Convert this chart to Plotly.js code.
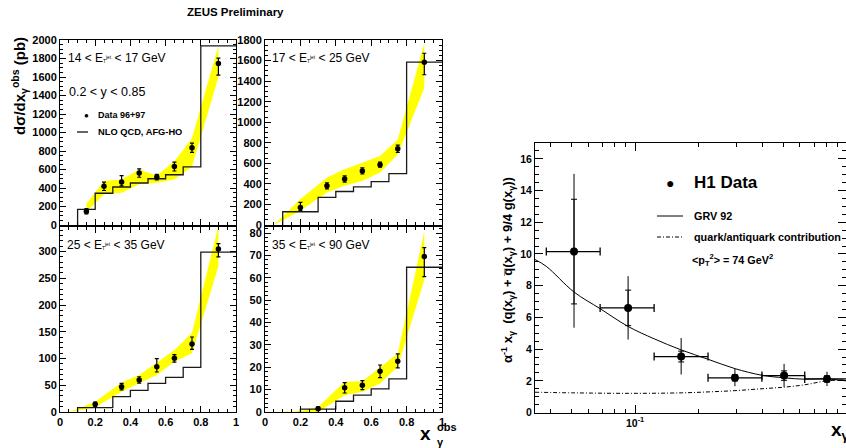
<!DOCTYPE html>
<html><head><meta charset="utf-8">
<script src="https://cdn.plot.ly/plotly-3.0.1.min.js"></script>
<style>html,body{margin:0;padding:0;background:#fff}#c{width:846px;height:448px}</style>
</head><body><div id="c"></div>
<script>
// ---------- ZEUS panel 1 : 14 < ET < 17 GeV ----------
const p1_x = [0.15,0.25,0.35,0.45,0.55,0.65,0.75,0.9];
const p1_y = [146,418,464,561,518,632,836,1746];
const p1_errp = [30,45,70,45,30,48,50,57];
const p1_errm = [25,45,40,45,30,48,50,125];
const p1_bandx = [0.15,0.25,0.35,0.45,0.55,0.65,0.75,0.9];
const p1_bandlo = [140,332,350,440,457,493,629,1600];
const p1_bandhi = [230,475,493,600,536,689,939,1939];
const p1_edges = [0.1,0.2,0.3,0.4,0.5,0.6,0.7,0.8,1.0];
const p1_nlo = [168,343,411,454,500,543,629,1936];
// ---------- panel 2 : 17 < ET < 25 GeV ----------
const p2_x = [0.2,0.35,0.45,0.55,0.65,0.75,0.9];
const p2_y = [171,381,448,526,587,742,1584];
const p2_errp = [50,30,30,30,25,35,87];
const p2_errm = [30,30,30,30,25,35,122];
const p2_bandx = [0.05,0.2,0.35,0.45,0.55,0.65,0.75,0.9];
const p2_bandlo = [0,139,316,381,429,510,687,1332];
const p2_bandhi = [0,252,461,542,606,671,832,1768];
const p2_edges = [0.1,0.3,0.4,0.5,0.6,0.7,0.8,1.0];
const p2_nlo = [129,268,326,371,423,500,1584];
// ---------- panel 3 : 25 < ET < 35 GeV ----------
const p3_x = [0.2,0.35,0.45,0.55,0.65,0.75,0.9];
const p3_y = [14.3,47.4,59.9,84.8,100.4,127.3,305];
const p3_errp = [4,6,6,15,7,13,10];
const p3_errm = [4,6,6,10,7,10,15];
const p3_bandx = [0.05,0.2,0.35,0.45,0.55,0.65,0.75,0.9];
const p3_bandlo = [0,8.7,38,53.6,69,94,110,272];
const p3_bandhi = [0,19.3,55,69.2,92,116,148,348];
const p3_edges = [0.1,0.3,0.4,0.5,0.6,0.7,0.8,1.0];
const p3_nlo = [8.1,28.7,40.5,53.6,64.9,83.6,299];
// ---------- panel 4 : 35 < ET < 90 GeV ----------
const p4_x = [0.3,0.45,0.55,0.65,0.75,0.9];
const p4_y = [1.5,10.8,12,18.2,22.7,69.5];
const p4_errp = [0.8,2.3,2,2.8,3.3,4];
const p4_errm = [0.8,2.3,2,2.8,3,9];
const p4_bandx = [0.05,0.2,0.3,0.45,0.55,0.65,0.75,0.9];
const p4_bandlo = [0,0,0,7.5,9,12.7,20.2,59];
const p4_bandhi = [0,0.3,2.2,13.5,13.8,20.2,26.2,80.7];
const p4_edges = [0.2,0.4,0.5,0.6,0.7,0.8,1.0];
const p4_nlo = [1.3,4.8,7.5,10.3,14.8,64.7];
// ---------- H1 ----------
const h1_x = [0.0515,0.0927,0.165,0.296,0.505,0.805];
const h1_y = [10.15,6.6,3.53,2.19,2.33,2.12];
const h1_xlo = [0.0381,0.0684,0.123,0.221,0.397,0.632];
const h1_xhi = [0.0684,0.123,0.221,0.397,0.632,1.0];
const h1_stat = [3.3,1.12,0.34,0.2,0.3,0.2];
const h1_totp = [4.9,2.0,1.17,0.56,0.74,0.45];
const h1_totm = [4.8,2.0,1.13,0.53,0.71,0.45];
const grv_x = [0.0337,0.0381,0.0515,0.0684,0.0927,0.123,0.165,0.221,0.296,0.397,0.505,0.632,0.805,0.99];
const grv_y = [9.65,9.22,7.6,6.55,5.43,4.65,3.95,3.36,2.77,2.35,2.19,2.10,2.12,2.0];
const qk_x = [0.0337,0.0515,0.0927,0.165,0.221,0.296,0.397,0.505,0.632,0.805,0.99];
const qk_y = [1.28,1.24,1.21,1.24,1.3,1.38,1.5,1.6,1.75,2.0,2.05];

const W = 846, H = 448;
const px = v => v / W, py = v => 1 - v / H;
const FONT = 'Liberation Sans, Arial, Helvetica, sans-serif';
const YEL = '#ffff00';

const traces = [];
function zeusPanel(ax, bx, blo, bhi, edges, nlo, x, y, ep, em) {
  const xa = 'x' + (ax === 1 ? '' : ax), ya = 'y' + (ax === 1 ? '' : ax);
  traces.push({x: bx.concat(bx.slice().reverse()), y: bhi.concat(blo.slice().reverse()),
    xaxis: xa, yaxis: ya, type: 'scatter', mode: 'lines', fill: 'toself',
    fillcolor: YEL, line: {width: 0, color: YEL}, hoverinfo: 'skip'});
  const hx = [edges[0]].concat(edges);
  const hy = [0].concat(nlo).concat([nlo[nlo.length - 1]]);
  traces.push({x: hx, y: hy, xaxis: xa, yaxis: ya, type: 'scatter', mode: 'lines',
    line: {shape: 'hv', color: '#1a1a1a', width: 1.3}});
  traces.push({x: x, y: y, xaxis: xa, yaxis: ya, type: 'scatter', mode: 'markers',
    marker: {color: '#000', size: 5.5},
    error_y: {type: 'data', array: ep, arrayminus: em, color: '#000', thickness: 1.2, width: 2}});
}
zeusPanel(1, p1_bandx, p1_bandlo, p1_bandhi, p1_edges, p1_nlo, p1_x, p1_y, p1_errp, p1_errm);
zeusPanel(2, p2_bandx, p2_bandlo, p2_bandhi, p2_edges, p2_nlo, p2_x, p2_y, p2_errp, p2_errm);
zeusPanel(3, p3_bandx, p3_bandlo, p3_bandhi, p3_edges, p3_nlo, p3_x, p3_y, p3_errp, p3_errm);
zeusPanel(4, p4_bandx, p4_bandlo, p4_bandhi, p4_edges, p4_nlo, p4_x, p4_y, p4_errp, p4_errm);

// H1
traces.push({x: grv_x, y: grv_y, xaxis: 'x5', yaxis: 'y5', type: 'scatter', mode: 'lines',
  line: {color: '#000', width: 1, shape: 'spline'}});
traces.push({x: qk_x, y: qk_y, xaxis: 'x5', yaxis: 'y5', type: 'scatter', mode: 'lines',
  line: {color: '#000', width: 1, dash: '4px,2px,1px,2px', shape: 'spline'}});
traces.push({x: h1_x, y: h1_y, xaxis: 'x5', yaxis: 'y5', type: 'scatter', mode: 'markers',
  marker: {color: '#000', size: 8},
  error_y: {type: 'data', array: h1_totp, arrayminus: h1_totm, color: '#000', thickness: 1, width: 0},
  error_x: {type: 'data', array: h1_xhi.map((v, i) => v - h1_x[i]), arrayminus: h1_xlo.map((v, i) => h1_x[i] - v),
    color: '#000', thickness: 1.3, width: 4}});
traces.push({x: h1_x, y: h1_y, xaxis: 'x5', yaxis: 'y5', type: 'scatter', mode: 'markers',
  marker: {color: 'rgba(0,0,0,0)', size: 1},
  error_y: {type: 'data', array: h1_stat, color: '#000', thickness: 1, width: 3}});

const tickF = {family: FONT, size: 11, color: '#000', weight: 'bold'};
function xax(dom, anchor, labels) {
  return {domain: dom, anchor: anchor, range: [0, 1], dtick: 0.2, tick0: 0,
    ticks: 'inside', ticklen: 6, tickwidth: 1, tickcolor: '#000',
    showline: true, linecolor: '#000', linewidth: 1, mirror: 'allticks',
    showgrid: false, zeroline: false, showticklabels: labels, tickfont: tickF,
    minor: {dtick: 0.05, ticks: 'inside', ticklen: 3, tickcolor: '#000', showgrid: false}};
}
function yax(dom, anchor, range, dt, mdt) {
  return {domain: dom, anchor: anchor, range: range, dtick: dt, tick0: 0,
    ticks: 'inside', ticklen: 6, tickwidth: 1, tickcolor: '#000',
    showline: true, linecolor: '#000', linewidth: 1, mirror: 'allticks',
    showgrid: false, zeroline: false, tickfont: tickF,
    minor: {dtick: mdt, ticks: 'inside', ticklen: 3, tickcolor: '#000', showgrid: false}};
}
const L1 = [px(60), px(236)], L2 = [px(265), px(442)];
const T = [py(225), py(40)], B = [py(412), py(227)];

const hf = (s, w) => ({family: FONT, size: s, color: '#000', weight: w || 'normal'});
const ann = [];
function A(x, y, text, font, opts) {
  ann.push(Object.assign({xref: 'paper', yref: 'paper', x: px(x), y: py(y), text: text,
    showarrow: false, xanchor: 'left', yanchor: 'middle', font: font}, opts || {}));
}
A(235, 12, 'ZEUS Preliminary', hf(11.5, 'bold'), {xanchor: 'center'});
A(19, 86, 'dσ/dx<sub>γ</sub><sup>obs</sup> (pb)', hf(15, 'bold'), {xanchor: 'center', textangle: -90});
// x_gamma^obs (stacked sub/superscript)
A(418, 433, 'x', hf(19, 'bold'));
A(435, 427, 'obs', hf(11, 'bold'));
A(435, 442, 'γ', hf(11, 'bold'));
const ET = 'E<span style="font-size:7px"><sub>T</sub></span><span style="font-size:7px"><sup>jet</sup></span>';
A(66, 58, '14 &lt; ' + ET + ' &lt; 17 GeV', hf(12));
A(270, 58, '17 &lt; ' + ET + ' &lt; 25 GeV', hf(12));
A(65, 245, '25 &lt; ' + ET + ' &lt; 35 GeV', hf(12));
A(270, 245, '35 &lt; ' + ET + ' &lt; 90 GeV', hf(12));
A(67, 92, '0.2 &lt; y &lt; 0.85', hf(12.5));
A(86, 115, '●', hf(8), {xanchor: 'center'});
A(96, 115, 'Data 96+97', hf(9, 'bold'));
A(96, 132, 'NLO QCD, AFG-HO', hf(9.3, 'bold'));
// H1 texts
A(670, 183, '●', hf(14), {xanchor: 'center'});
A(692, 183, 'H1 Data', hf(17, 'bold'));
A(692, 216, 'GRV 92', hf(10.8, 'bold'));
A(692, 237, 'quark/antiquark contribution', hf(10.8, 'bold'));
A(690, 260, '&lt;p<sub>T</sub><sup>2</sup>&gt; = 74 GeV<sup>2</sup>', hf(10.8, 'bold'));
A(508, 270, 'α<sup>-1</sup> x<sub>γ</sub>  (q(x<sub>γ</sub>) + q\u0305(x<sub>γ</sub>) + 9/4 g(x<sub>γ</sub>))', hf(13, 'bold'), {xanchor: 'center', textangle: -90});
A(829, 431, 'x<sub>γ</sub>', hf(19, 'bold'));

const shapes = [
  {type: 'line', xref: 'paper', yref: 'paper', x0: px(77), x1: px(88), y0: py(132), y1: py(132), line: {color: '#000', width: 1.2}},
  {type: 'line', xref: 'paper', yref: 'paper', x0: px(657), x1: px(683), y0: py(216), y1: py(216), line: {color: '#000', width: 1}},
  {type: 'line', xref: 'paper', yref: 'paper', x0: px(657), x1: px(683), y0: py(237), y1: py(237), line: {color: '#000', width: 1, dash: '4px,2px,1px,2px'}}
];

const layout = {
  width: W, height: H, margin: {l: 0, r: 0, t: 0, b: 0},
  paper_bgcolor: '#fff', plot_bgcolor: 'rgba(0,0,0,0)', showlegend: false,
  font: {family: FONT, color: '#000'},
  xaxis: xax(L1, 'y', false), yaxis: yax(T, 'x', [0, 2000], 200, 50),
  xaxis2: xax(L2, 'y2', false), yaxis2: yax(T, 'x2', [0, 1800], 200, 50),
  xaxis3: xax(L1, 'y3', true), yaxis3: yax(B, 'x3', [0, 346], 50, 10),
  xaxis4: xax(L2, 'y4', true), yaxis4: yax(B, 'x4', [0, 82.7], 10, 2),
  xaxis5: {domain: [px(535), 1], anchor: 'y5', type: 'log', range: [Math.log10(0.0337), Math.log10(0.99)],
    tickmode: 'array', tickvals: [0.1], ticktext: ['10<sup>-1</sup>'],
    ticks: 'inside', ticklen: 8, tickcolor: '#000', showline: true, linecolor: '#000', linewidth: 1,
    mirror: 'allticks', showgrid: false, zeroline: false,
    tickfont: {family: FONT, size: 10.5, color: '#000', weight: 'bold'},
    minor: {tickmode: 'array', tickvals: [0.04,0.05,0.06,0.07,0.08,0.09,0.2,0.3,0.4,0.5,0.6,0.7,0.8,0.9],
      ticks: 'inside', ticklen: 4, tickcolor: '#000', showgrid: false}},
  yaxis5: {domain: [py(413), py(143)], anchor: 'x5', range: [-0.03, 17], dtick: 2, tick0: 0,
    ticks: 'inside', ticklen: 8, tickcolor: '#000', showline: true, linecolor: '#000', linewidth: 1,
    mirror: 'allticks', showgrid: false, zeroline: false,
    tickfont: {family: FONT, size: 10.5, color: '#000', weight: 'bold'},
    minor: {dtick: 0.5, ticks: 'inside', ticklen: 4, tickcolor: '#000', showgrid: false}},
  annotations: ann, shapes: shapes
};
Plotly.newPlot('c', traces, layout, {staticPlot: true});
</script></body></html>
